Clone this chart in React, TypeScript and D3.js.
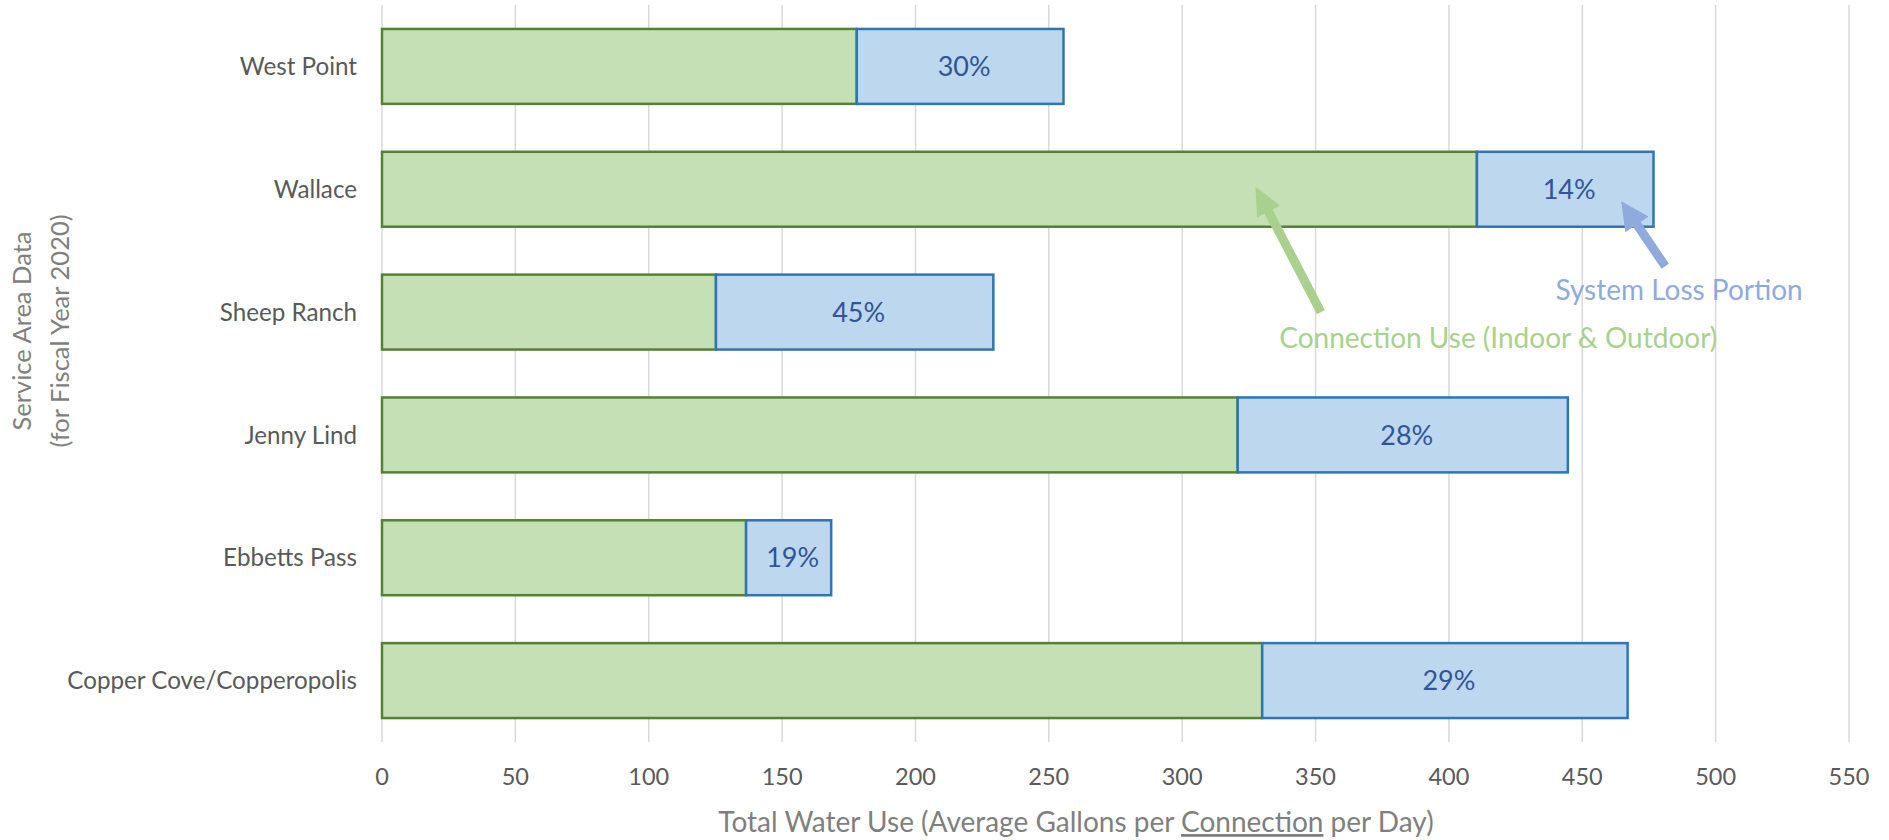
import React from "react";
import * as d3 from "d3";

const categories = ["West Point", "Wallace", "Sheep Ranch", "Jenny Lind", "Ebbetts Pass", "Copper Cove/Copperopolis"];
const connectionUse = [178, 410.5, 125.2, 320.8, 136.5, 330];
const totalUse = [255.5, 476.7, 229.2, 444.6, 168.4, 467];
const lossLabels = ["30%", "14%", "45%", "28%", "19%", "29%"];
const xTicks = [0, 50, 100, 150, 200, 250, 300, 350, 400, 450, 500, 550];

const W = 1889;
const H = 840;
const FONT = "Lato, 'Open Sans', sans-serif";

export default function App() {
  const margin = { left: 382, right: W - 1849, top: 5, bottom: H - 742 };
  const x = d3.scaleLinear().domain([0, 550]).range([margin.left, W - margin.right]);
  const y = d3
    .scaleBand<string>()
    .domain(categories)
    .range([margin.top, H - margin.bottom])
    .paddingInner(0.39)
    .paddingOuter(0.195);
  const bw = y.bandwidth();
  const cy = (c: string) => (y(c) ?? 0) + bw / 2;

  // annotations positioned in data space
  const greenTip = { x: x(327.5), y: cy("Wallace") - 2.6 };
  const greenTail = { x: x(352), y: cy("Sheep Ranch") };
  const blueTip = { x: x(464.6), y: cy("Wallace") + 12 };
  const blueTail = { x: x(481.1), y: cy("Wallace") + 77 };

  const arrow = (tail: any, tip: any, color: string, shaft: number, headW: number, headL: number) => {
    const dx = tip.x - tail.x;
    const dy = tip.y - tail.y;
    const len = Math.hypot(dx, dy);
    const ux = dx / len;
    const uy = dy / len;
    const px = -uy;
    const py = ux;
    const bx = tip.x - ux * headL;
    const by = tip.y - uy * headL;
    const pts = [
      [tail.x + px * shaft / 2, tail.y + py * shaft / 2],
      [bx + px * shaft / 2, by + py * shaft / 2],
      [bx + px * headW / 2, by + py * headW / 2],
      [tip.x, tip.y],
      [bx - px * headW / 2, by - py * headW / 2],
      [bx - px * shaft / 2, by - py * shaft / 2],
      [tail.x - px * shaft / 2, tail.y - py * shaft / 2],
    ];
    return <polygon points={pts.map((p) => p.join(",")).join(" ")} fill={color} />;
  };

  return (
    <svg
      width={W}
      height={H}
      style={{ position: "absolute", left: 0, top: 0, background: "#fff" }}
      fontFamily={FONT}
    >
      {/* gridlines */}
      {xTicks.map((t) => (
        <line
          key={"g" + t}
          x1={x(t)}
          x2={x(t)}
          y1={margin.top}
          y2={H - margin.bottom}
          stroke="#D9D9D9"
          strokeWidth={1.5}
        />
      ))}
      {/* tick labels */}
      {xTicks.map((t) => (
        <text key={"t" + t} x={x(t)} y={785} textAnchor="middle" fontSize={23.5} fill="#595959">
          {t}
        </text>
      ))}
      {/* bars */}
      {categories.map((c, i) => (
        <g key={c}>
          <rect
            x={x(0)}
            y={y(c)}
            width={x(connectionUse[i]) - x(0)}
            height={bw}
            fill="#C5E0B4"
            stroke="#548235"
            strokeWidth={2.5}
          />
          <rect
            x={x(connectionUse[i])}
            y={y(c)}
            width={x(totalUse[i]) - x(connectionUse[i])}
            height={bw}
            fill="#BDD7EE"
            stroke="#2E75B6"
            strokeWidth={2.5}
          />
          <text
            x={(x(connectionUse[i]) + x(totalUse[i])) / 2 + 4}
            y={cy(c)}
            dy="0.36em"
            textAnchor="middle"
            fontSize={27}
            fill="#2F5597"
          >
            {lossLabels[i]}
          </text>
          <text x={357} y={cy(c)} dy="0.36em" textAnchor="end" fontSize={24.2} fill="#595959">
            {c}
          </text>
        </g>
      ))}
      {/* annotations */}
      {arrow(greenTail, greenTip, "#A9D18E", 9, 26, 28)}
      {arrow(blueTail, blueTip, "#8FAADC", 9, 28, 28)}
      <text x={x(418.5)} y={cy("Sheep Ranch") + 26} dy="0.36em" textAnchor="middle" fontSize={28} fill="#A9D18E">
        Connection Use (Indoor &amp; Outdoor)
      </text>
      <text x={x(486.3)} y={cy("Wallace") + 101} dy="0.36em" textAnchor="middle" fontSize={28} fill="#8FAADC">
        System Loss Portion
      </text>
      {/* axis titles */}
      <text x={1076} y={832} textAnchor="middle" fontSize={28} fill="#7F7F7F">
        Total Water Use (Average Gallons per{" "}
        <tspan textDecoration="underline" style={{ textDecoration: "underline" }}>
          Connection
        </tspan>{" "}
        per Day)
      </text>
      <g transform={`translate(0, 331)`}>
        <text transform="rotate(-90)" x={0} y={21.7} dy="0.36em" textAnchor="middle" fontSize={25.5} fill="#7F7F7F">
          Service Area Data
        </text>
        <text transform="rotate(-90)" x={0} y={60} dy="0.36em" textAnchor="middle" fontSize={25.5} fill="#7F7F7F">
          (for Fiscal Year 2020)
        </text>
      </g>
    </svg>
  );
}
